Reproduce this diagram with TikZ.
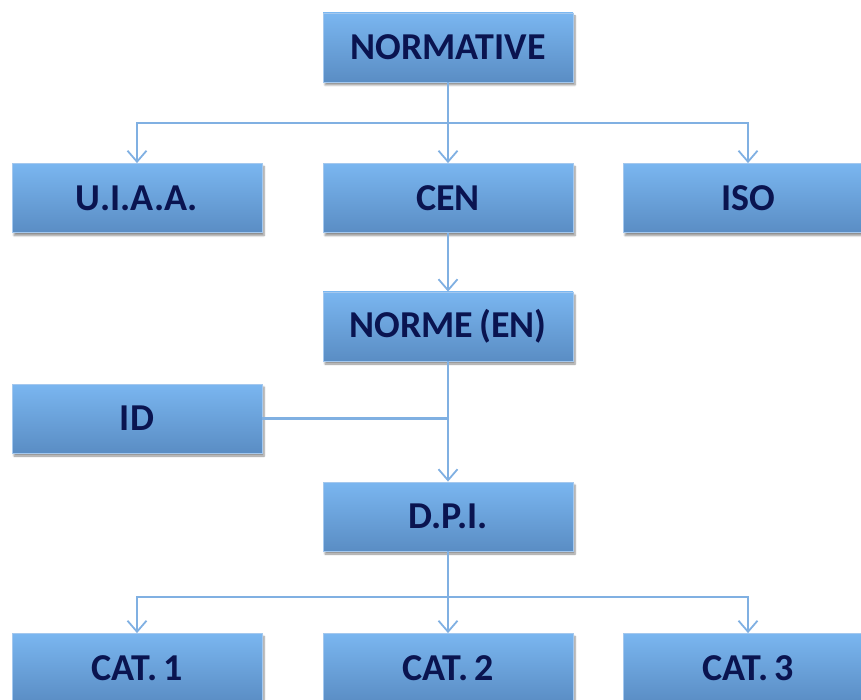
\documentclass[tikz,border=0pt]{standalone}
\usepackage{fontspec}
\setmainfont{Carlito}
\usetikzlibrary{arrows.meta,shadows.blur}

\definecolor{boxtop}{HTML}{7AB6F0}
\definecolor{boxbottom}{HTML}{5A8DC4}
\definecolor{boxline}{HTML}{A4C8EE}
\definecolor{textnavy}{HTML}{0A1450}
\definecolor{linkcolor}{HTML}{80B0E2}

\tikzset{
  normbox/.style={rectangle, minimum width=250pt, minimum height=69pt,
    top color=boxtop, bottom color=boxbottom, draw=boxline, line width=0.8pt,
    blur shadow={shadow xshift=2pt, shadow yshift=-3pt, shadow blur steps=6, shadow opacity=45},
    text=textnavy, font=\bfseries\fontsize{38}{42}\selectfont, inner sep=0pt},
  link/.style={draw=linkcolor, line width=2.2pt},
  linkarrow/.style={link, -{Straight Barb[length=11pt,width=19pt,line width=1.8pt]}}
}

\begin{document}
\begin{tikzpicture}[x=1pt,y=-1pt]
\useasboundingbox (0,0) rectangle (861,700);
% top level
\node[normbox] (normative) at (448,47.5) {NORMATIVE};
\node[normbox] (uiaa) at (137,198) {U.I.A.A.};
\node[normbox] (cen) at (448,198) {CEN};
\node[normbox] (iso) at (748,198) {ISO};
% middle
\node[normbox] (norme) at (448,326.5) {NORME\,(EN)};
\node[normbox] (id) at (137,418.5) {ID};
\node[normbox] (dpi) at (448,516.5) {D.P.I.};
% categories
\node[normbox] (cat1) at (137,668) {CAT.\,1};
\node[normbox] (cat2) at (448,668) {CAT.\,2};
\node[normbox] (cat3) at (748,668) {CAT.\,3};

\coordinate (topsplit) at (448,123);
\coordinate (botsplit) at (448,597);

\draw[link] (normative.south) -- (topsplit);
\draw[linkarrow] (topsplit) -| (uiaa.north);
\draw[linkarrow] (topsplit) -- (cen.north);
\draw[linkarrow] (topsplit) -| (iso.north);

\draw[linkarrow] (cen.south) -- (norme.north);
\draw[link] (id.east) -- (id.east -| dpi.north);
\draw[linkarrow] (norme.south) -- (dpi.north);

\draw[link] (dpi.south) -- (botsplit);
\draw[linkarrow] (botsplit) -| (cat1.north);
\draw[linkarrow] (botsplit) -- (cat2.north);
\draw[linkarrow] (botsplit) -| (cat3.north);
\end{tikzpicture}
\end{document}
